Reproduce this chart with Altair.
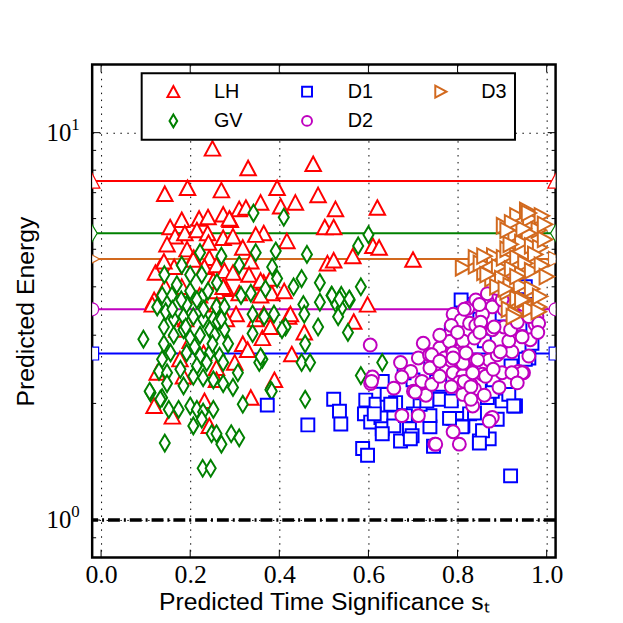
import altair as alt
import pandas as pd

# ---------------- data ----------------
series_order = ["LH", "GV", "D1", "D2", "D3"]
series_colors = {"LH": "#ff0000", "GV": "#008000", "D1": "#0000ff", "D2": "#bf00bf", "D3": "#d2691e"}
series_shapes = {
    "LH": "M0,-1.15L1.2,1.1L-1.2,1.1Z",
    "GV": "M0,-1.3L0.78,0L0,1.3L-0.78,0Z",
    "D1": "M-1,-1L1,-1L1,1L-1,1Z",
    "D2": "circle",
    "D3": "M1.15,0L-1.1,-1.2L-1.1,1.2Z",
}
mean_values = {"LH": 7.5, "GV": 5.5, "D1": 2.69, "D2": 3.5, "D3": 4.72}

lh_x = [0.25, 0.476, 0.33, 0.194, 0.143, 0.27, 0.395, 0.487, 0.358, 0.436, 0.403, 0.526, 0.62, 0.31, 0.325,
        0.502, 0.522, 0.365, 0.417, 0.61, 0.624, 0.565, 0.508, 0.522, 0.70, 0.365, 0.383, 0.411, 0.598, 0.567,
        0.456, 0.421, 0.428, 0.389, 0.362, 0.181, 0.155, 0.22, 0.24, 0.274, 0.29, 0.288, 0.166, 0.148, 0.188,
        0.215, 0.239, 0.274, 0.296, 0.318, 0.347, 0.193, 0.243, 0.208, 0.133, 0.122, 0.164, 0.232, 0.259, 0.277,
        0.296, 0.336, 0.332, 0.358, 0.252, 0.281, 0.259, 0.144, 0.119, 0.358, 0.31, 0.221, 0.38, 0.181, 0.274,
        0.303, 0.266, 0.347, 0.365, 0.425, 0.38, 0.318, 0.329, 0.30, 0.119, 0.16, 0.336, 0.232, 0.281, 0.259,
        0.259, 0.177, 0.185, 0.126, 0.243, 0.115, 0.141, 0.207, 0.241, 0.2, 0.23, 0.17, 0.26, 0.19]
lh_y = [9.1, 8.3, 8.1, 7.2, 6.95, 7.1, 7.2, 6.9, 6.6, 6.6, 6.45, 6.35, 6.4, 6.35, 6.4,
        5.7, 5.7, 5.5, 5.25, 5.1, 5.05, 4.8, 4.6, 4.68, 4.7, 4.1, 3.85, 3.9, 3.6, 3.25,
        3.05, 3.35, 2.68, 2.3, 2.95, 5.95, 5.7, 6.0, 6.05, 6.15, 5.95, 6.0, 5.4, 5.15, 5.5,
        5.6, 5.5, 5.35, 5.4, 5.05, 5.45, 5.0, 4.75, 4.75, 4.5, 4.35, 4.5, 4.5, 4.55, 4.4,
        4.35, 4.65, 4.3, 4.15, 4.15, 3.95, 3.9, 4.0, 3.7, 3.8, 3.85, 3.8, 4.2, 4.0, 4.0,
        3.4, 3.3, 3.3, 3.4, 3.4, 3.15, 2.85, 2.75, 2.55, 1.97, 1.85, 2.07, 2.03, 3.3, 2.47,
        2.3, 2.6, 2.35, 2.4, 1.75, 3.6, 4.65, 4.7, 5.2, 2.9, 2.7, 3.1, 3.6, 3.3]

gv_x = [0.342, 0.41, 0.347, 0.27, 0.392, 0.462, 0.222, 0.31, 0.384, 0.181, 0.142, 0.2, 0.226, 0.395, 0.45,
        0.491, 0.432, 0.517, 0.314, 0.336, 0.226, 0.17, 0.137, 0.126, 0.159, 0.192, 0.215, 0.259, 0.277, 0.145,
        0.163, 0.185, 0.207, 0.229, 0.252, 0.34, 0.366, 0.388, 0.414, 0.454, 0.456, 0.487, 0.491, 0.458, 0.45,
        0.469, 0.095, 0.141, 0.141, 0.163, 0.185, 0.2, 0.222, 0.244, 0.255, 0.277, 0.285, 0.266, 0.244, 0.222,
        0.192, 0.156, 0.137, 0.13, 0.148, 0.178, 0.215, 0.237, 0.274, 0.307, 0.296, 0.274, 0.252, 0.229, 0.207,
        0.185, 0.148, 0.111, 0.137, 0.152, 0.174, 0.2, 0.215, 0.229, 0.252, 0.207, 0.226, 0.248, 0.259, 0.27,
        0.292, 0.31, 0.318, 0.38, 0.458, 0.143, 0.228, 0.246, 0.362, 0.355, 0.406, 0.369, 0.262, 0.577, 0.60,
        0.583, 0.518, 0.539, 0.558, 0.528, 0.539, 0.532, 0.554, 0.631, 0.583, 0.383, 0.358, 0.34, 0.535, 0.557,
        0.109, 0.133, 0.18, 0.2, 0.24, 0.26, 0.16, 0.23, 0.27, 0.19, 0.21, 0.25]
gv_y = [6.2, 6.05, 4.9, 4.8, 4.95, 4.85, 4.9, 4.55, 4.5, 4.55, 4.3, 4.3, 4.3, 4.2, 4.2,
        4.1, 4.0, 3.8, 3.8, 3.85, 3.75, 4.05, 3.8, 3.55, 3.8, 3.6, 3.7, 3.55, 3.55, 3.45,
        3.3, 3.35, 3.35, 3.3, 3.3, 3.4, 3.35, 3.4, 3.15, 3.6, 3.4, 3.15, 3.65, 2.85, 2.55,
        2.55, 2.93, 3.15, 2.85, 3.0, 3.1, 2.95, 3.0, 3.1, 3.0, 3.1, 2.85, 2.65, 2.7, 2.65,
        2.7, 2.7, 2.6, 2.42, 2.4, 2.45, 2.5, 2.55, 2.55, 2.4, 2.2, 2.25, 2.3, 2.33, 2.35,
        2.22, 2.25, 2.13, 2.07, 1.93, 1.93, 1.97, 1.93, 1.9, 1.93, 1.75, 1.82, 1.67, 1.67, 1.57,
        1.67, 1.63, 1.99, 2.17, 2.05, 1.58, 1.36, 1.36, 2.6, 2.55, 3.1, 3.95, 3.25, 5.1, 5.45,
        4.0, 3.8, 3.8, 3.7, 3.6, 3.52, 3.35, 3.05, 2.55, 2.36, 2.15, 2.64, 3.03, 3.72, 3.72,
        2.15, 2.05, 3.7, 3.9, 3.9, 4.1, 3.5, 3.5, 3.3, 3.15, 2.8, 2.85]

d1_x = [0.373, 0.464, 0.522, 0.535, 0.538, 0.594, 0.617, 0.591, 0.605, 0.628, 0.642, 0.631, 0.587, 0.598, 0.631,
        0.642, 0.661, 0.657, 0.672, 0.692, 0.698, 0.738, 0.738, 0.76, 0.786, 0.753, 0.775, 0.79, 0.804, 0.812,
        0.746, 0.716, 0.701, 0.683, 0.731, 0.65, 0.72, 0.827, 0.81, 0.849, 0.871, 0.856, 0.93, 0.90, 0.915,
        0.867, 0.878, 0.919, 0.96, 0.967, 0.76, 0.838, 0.889, 0.694, 0.631, 0.613, 0.782, 0.812, 0.808, 0.786,
        0.952, 0.952, 0.849, 0.926, 0.70, 0.74, 0.83, 0.86, 0.88, 0.92, 0.94, 0.90, 0.85, 0.78, 0.96, 0.68,
        0.975]
d1_y = [1.98, 1.76, 2.05, 1.91, 1.77, 2.04, 1.99, 1.88, 1.79, 1.84, 1.98, 1.72, 1.53, 1.47, 2.28,
        2.11, 2.01, 1.75, 1.6, 1.72, 1.65, 1.74, 1.86, 2.05, 2.03, 2.28, 2.47, 1.83, 1.83, 1.75,
        1.55, 1.99, 1.88, 1.86, 2.03, 1.99, 2.13, 1.88, 1.74, 1.6, 1.62, 1.7, 1.97, 2.03, 2.11,
        2.07, 2.15, 1.3, 2.62, 2.86, 2.24, 1.89, 1.82, 1.62, 1.67, 1.88, 1.83, 3.6, 3.7, 3.05,
        4.0, 2.6, 1.58, 1.97, 2.3, 2.6, 2.5, 2.9, 2.3, 2.5, 3.2, 3.4, 3.3, 2.75, 3.6, 2.4,
        3.45]

d2_x = [0.604, 0.609, 0.605, 0.657, 0.672, 0.695, 0.712, 0.723, 0.737, 0.738, 0.72, 0.701, 0.726, 0.675, 0.712,
        0.749, 0.79, 0.804, 0.76, 0.771, 0.786, 0.79, 0.808, 0.823, 0.841, 0.867, 0.827, 0.812, 0.838, 0.812,
        0.786, 0.815, 0.841, 0.79, 0.812, 0.83, 0.812, 0.838, 0.856, 0.871, 0.889, 0.922, 0.915, 0.945, 0.963,
        0.937, 0.948, 0.90, 0.871, 0.878, 0.904, 0.904, 0.93, 0.952, 0.974, 0.978, 0.878, 0.856, 0.849, 0.893,
        0.875, 0.834, 0.804, 0.841, 0.786, 0.675, 0.729, 0.705, 0.742, 0.742, 0.76, 0.786, 0.782, 0.79, 0.812,
        0.815, 0.815, 0.889, 0.90, 0.852, 0.882, 0.919, 0.934, 0.96, 0.982, 0.926, 0.948, 0.967, 0.912, 0.819,
        0.845, 0.79, 0.896, 0.945, 0.945, 0.922, 0.934, 0.893, 0.863, 0.834, 0.83, 0.76, 0.878, 0.871, 0.751,
        0.607, 0.76, 0.80, 0.85, 0.88, 0.96, 0.98, 0.83, 0.86]
d2_y = [2.83, 2.34, 2.25, 2.19, 2.55, 2.42, 2.62, 2.86, 2.67, 2.47, 2.28, 2.15, 2.11, 1.86, 1.86,
        1.57, 1.69, 1.57, 2.78, 2.62, 2.9, 3.4, 3.28, 3.52, 3.7, 3.84, 3.22, 2.9, 2.95, 2.7,
        2.58, 2.52, 2.59, 2.4, 2.36, 2.24, 2.11, 2.18, 2.38, 2.59, 2.67, 2.72, 2.9, 2.98, 2.92,
        2.42, 2.4, 2.4, 2.8, 3.1, 3.15, 3.5, 3.35, 3.4, 3.2, 3.35, 3.55, 3.4, 3.6, 3.78,
        1.83, 1.97, 2.27, 3.18, 3.18, 2.34, 2.1, 2.14, 2.24, 2.67, 2.35, 2.21, 2.89, 2.7, 2.54,
        2.28, 3.5, 3.96, 3.7, 3.24, 3.15, 3.1, 3.24, 3.35, 3.22, 3.6, 3.6, 3.55, 4.07, 2.7,
        2.59, 2.62, 2.72, 2.97, 2.4, 2.4, 2.26, 2.2, 2.35, 2.4, 2.21, 2.57, 1.84, 1.8, 1.57,
        2.28, 3.0, 3.05, 3.05, 2.45, 2.65, 3.05, 2.05, 2.1]

d3_x = [0.812, 0.841, 0.863, 0.882, 0.86, 0.878, 0.893, 0.904, 0.912, 0.904, 0.93, 0.934, 0.956, 0.963, 0.989,
        0.982, 0.96, 0.945, 0.919, 0.967, 0.985, 0.996, 0.974, 0.934, 0.952, 0.922, 0.945, 0.967, 0.989, 1.0,
        0.90, 0.919, 0.942, 0.967, 0.912, 0.934, 0.952, 0.915, 0.93, 0.963, 0.982, 0.985, 0.889, 0.841, 0.852,
        0.948, 0.922, 0.996, 0.934, 0.86, 0.867, 0.912, 0.96, 0.908, 0.926, 0.982, 0.945]
d3_y = [4.48, 4.53, 4.7, 4.8, 4.36, 4.2, 4.5, 4.75, 5.0, 5.75, 5.45, 6.1, 6.3, 6.0, 6.1,
        5.6, 5.5, 5.2, 5.15, 5.1, 5.05, 5.3, 4.85, 4.75, 4.6, 4.45, 4.3, 4.4, 4.55, 4.25,
        4.2, 4.03, 4.03, 3.95, 3.88, 3.73, 3.7, 3.5, 3.4, 3.5, 3.55, 3.78, 4.0, 4.75, 4.6,
        5.65, 5.85, 5.8, 4.25, 4.8, 4.3, 5.6, 6.2, 3.95, 3.35, 3.45, 3.7]

x_domain = [-0.02, 1.02]
y_domain = [0.8, 15]
x_ticks = [0.0, 0.2, 0.4, 0.6, 0.8, 1.0]
y_major = [1, 10]
y_exponents = ["0", "1"]
y_minor = [0.9, 2, 3, 4, 5, 6, 7, 8, 9]
baseline = [1.0]

W, H = 468, 498

# ---------------- tables ----------------
series_xy = {"LH": (lh_x, lh_y), "GV": (gv_x, gv_y), "D1": (d1_x, d1_y), "D2": (d2_x, d2_y), "D3": (d3_x, d3_y)}
rows = []
for s in series_order:
    xs, ys = series_xy[s]
    for a, b in zip(xs, ys):
        rows.append({"x": a, "y": b, "series": s})
points = pd.DataFrame(rows)

xs_scale = alt.Scale(domain=x_domain, zero=False, nice=False)
ys_scale = alt.Scale(type="log", domain=y_domain, nice=False)

legend = alt.Legend(
    title=None, orient="none", legendX=50, legendY=9, columns=3, gridAlign="all",
    strokeColor="black", fillColor="white", padding=8,
    labelFont="Liberation Sans", labelFontSize=20, labelColor="black",
    symbolSize=100, symbolStrokeWidth=2, symbolFillColor="white",
    symbolOffset=14, labelOffset=31, columnPadding=41, rowPadding=8,
)

grid_dash = [1.5, 5.5]
x_axis = alt.Axis(values=x_ticks, format=".1f", labelFont="Liberation Serif", labelFontSize=26,
                  labelColor="black", labelPadding=4, ticks=False, domain=False, grid=True,
                  gridDash=grid_dash, gridColor="black", gridOpacity=1, gridWidth=1,
                  title="Predicted Time Significance s\u209c", titleFont="Liberation Sans",
                  titleFontSize=25, titleFontWeight="normal", titleColor="black", titlePadding=2)
y_axis = alt.Axis(values=y_major, labels=False, ticks=False, domain=False, grid=True,
                  gridDash=grid_dash, gridColor="black", gridOpacity=1, gridWidth=1,
                  title="Predicted Energy", titleFont="Liberation Sans", titleFontSize=25,
                  titleFontWeight="normal", titleColor="black", titlePadding=54)


def X(field="x"):
    return alt.X(f"{field}:Q", scale=xs_scale, axis=x_axis)


def Y(field="y"):
    return alt.Y(f"{field}:Q", scale=ys_scale, axis=y_axis)


layers = []

# mean lines with end markers
for s in series_order:
    mdf = pd.DataFrame({"x": [x_domain[0]], "x2": [x_domain[1]], "y": [mean_values[s]]})
    layers.append(alt.Chart(mdf).mark_rule(color=series_colors[s], strokeWidth=2).encode(
        x=X(), x2="x2:Q", y=Y()))
    edf = pd.DataFrame({"x": x_domain, "y": [mean_values[s]] * 2})
    layers.append(alt.Chart(edf).mark_point(shape=series_shapes[s], color=series_colors[s], filled=False,
                                            fill="white", fillOpacity=1, opacity=1, strokeWidth=1.2,
                                            size=170, clip=True).encode(x=X(), y=Y()))

# scatter
layers.append(alt.Chart(points).mark_point(filled=False, fill="white", fillOpacity=1, opacity=1,
                                           strokeWidth=2, size=170).encode(
    x=X(), y=Y(),
    color=alt.Color("series:N", scale=alt.Scale(domain=series_order,
                                                range=[series_colors[s] for s in series_order]), legend=legend),
    shape=alt.Shape("series:N", scale=alt.Scale(domain=series_order,
                                                range=[series_shapes[s] for s in series_order]), legend=legend),
    order=alt.Order("idx:Q"),
).transform_window(idx="row_number()"))

# dash-dot line at 10^0
layers.append(alt.Chart(pd.DataFrame({"y": baseline})).mark_rule(
    color="black", strokeWidth=3.5, strokeDash=[12, 4, 2, 4]).encode(y=Y()))

# inward ticks
xt = pd.DataFrame({"x": x_ticks})
for y0, y1 in [(H, H - 8), (0, 8)]:
    layers.append(alt.Chart(xt).mark_rule(color="black", strokeWidth=1).encode(
        x=X(), y=alt.value(y0), y2=alt.value(y1)))
for vals, ln in [(y_major, 8), (y_minor, 4)]:
    yt = pd.DataFrame({"y": vals})
    for x0, x1 in [(0, ln), (W, W - ln)]:
        layers.append(alt.Chart(yt).mark_rule(color="black", strokeWidth=1).encode(
            y=Y(), x=alt.value(x0), x2=alt.value(x1)))

# y tick labels 10^0, 10^1
ylab = pd.DataFrame({"y": y_major, "e": y_exponents})
layers.append(alt.Chart(ylab).mark_text(text="10", font="Liberation Serif", fontSize=25, align="right",
                                        baseline="middle", color="black").encode(
    y=Y(), x=alt.value(-21)))
layers.append(alt.Chart(ylab).mark_text(font="Liberation Serif", fontSize=17, align="left",
                                        baseline="middle", color="black", dy=-8).encode(
    y=Y(), x=alt.value(-21), text="e:N"))

chart = alt.layer(*layers).properties(
    width=W, height=H,
    autosize=alt.AutoSizeParams(type="none"),
    padding={"left": 85, "top": 54, "right": 60, "bottom": 55},
).configure_view(stroke="black", strokeWidth=2.5).configure_legend(strokeWidth=2)

chart.save("out.html", embed_options={"renderer": "svg", "actions": False})
